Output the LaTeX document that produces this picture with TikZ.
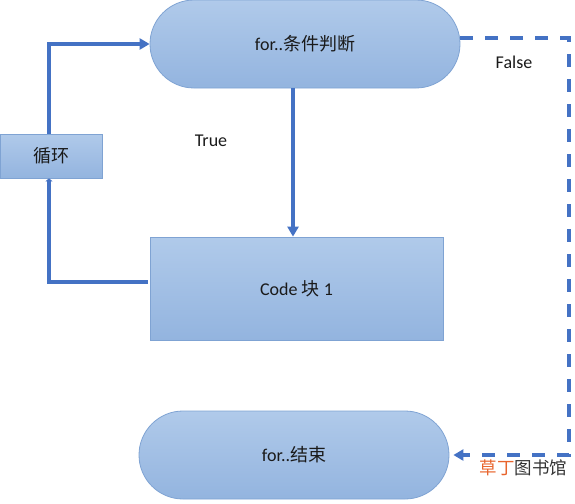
\documentclass[tikz,border=0pt]{standalone}
\usepackage{fontspec}
\setmainfont{Carlito}
\newfontfamily\cjk{Noto Sans CJK SC}
\usetikzlibrary{arrows.meta}
\definecolor{lineblue}{HTML}{4472C4}
\definecolor{fillTop}{HTML}{B0CAEA}
\definecolor{fillBot}{HTML}{93B4DF}
\definecolor{edgeblue}{HTML}{7FA3D3}
\definecolor{txt}{HTML}{1A1A1A}
\definecolor{wmorange}{HTML}{E8642C}
\definecolor{wmgray}{HTML}{333333}
\tikzset{
  boxfill/.style={draw=edgeblue, line width=0.8pt, top color=fillTop, bottom color=fillBot, text=txt, font=\fontsize{18}{20}\selectfont, inner sep=0pt},
  stadium/.style={boxfill, rounded corners=44pt, minimum height=88pt},
  rectbox/.style={boxfill},
  conn/.style={draw=lineblue, line width=3.6pt, -{Triangle[length=10pt,width=11pt]}},
  dconn/.style={conn, dash pattern=on 13pt off 12pt},
  lbl/.style={text=txt, font=\fontsize{18}{20}\selectfont}
}
\begin{document}
\begin{tikzpicture}[x=1pt,y=-1pt]
\useasboundingbox (0,0) rectangle (575,503);
\node[stadium, minimum width=310pt] (top) at (305,44) {for..{\cjk 条件判断}};
\node[rectbox, minimum width=102pt, minimum height=44pt] (loop) at (51,156) {\cjk 循环};
\node[rectbox, minimum width=293pt, minimum height=103pt] (code) at (296.5,288.5) {Code {\cjk 块} 1};
\node[stadium, minimum width=310pt] (end) at (294,455) {for..{\cjk 结束}};
\node[lbl] (true) at (211,141) {True};
\node[lbl] (false) at (514,62) {False};
\node[font=\fontsize{17.5}{20}\selectfont, anchor=west] (wm) at (476,468) {\cjk\textcolor{wmorange}{草丁}\textcolor{wmgray}{图书馆}};
\coordinate (lt) at (49,44);
\coordinate (lb) at (49,282);
\coordinate (dt) at (569,38);
\coordinate (db) at (569,455);
\draw[conn] (loop.north -| lt) -- (lt) -- (top.west);
\draw[conn, -{Triangle[length=3pt,width=7pt]}] ([yshift=6.5pt,xshift=-2pt]code.west) -- (lb) -- (loop.south -| lb);
\draw[conn] ([xshift=-12pt]top.south) -- ([xshift=-3.5pt]code.north);
\draw[dconn] ([yshift=6pt]top.east) -- (dt) -- (db) -- ([xshift=4pt]end.east);
\end{tikzpicture}
\end{document}
